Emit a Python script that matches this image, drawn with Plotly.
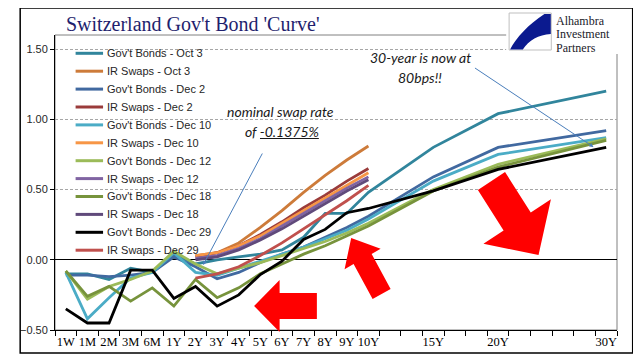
import math
import plotly.graph_objects as go

# ---------------- data ----------------
tenors = ["1W", "1M", "2M", "3M", "6M", "1Y", "2Y", "3Y", "4Y", "5Y", "6Y",
          "7Y", "8Y", "9Y", "10Y", "15Y", "20Y", "30Y"]
tenor_slot = [0, 1, 2, 3, 4, 5, 6, 7, 8, 9, 10, 11, 12, 13, 14, 17, 20, 25]
swap_tenors = ["2Y", "3Y", "4Y", "5Y", "6Y", "7Y", "8Y", "9Y", "10Y"]

gov_oct3 = [-0.10, -0.10, -0.14, -0.06, -0.09, 0.04, -0.03, 0.00, 0.02, 0.04, 0.07, 0.16, 0.33, 0.33, 0.48, 0.80, 1.04, 1.20]
gov_dec2 = [-0.11, -0.11, -0.12, -0.11, -0.09, 0.02, -0.05, -0.135, -0.09, -0.02, 0.04, 0.09, 0.16, 0.23, 0.31, 0.59, 0.80, 0.92]
gov_dec10 = [-0.09, -0.42, -0.27, -0.13, -0.09, 0.05, -0.09, -0.11, -0.06, -0.01, 0.04, 0.09, 0.15, 0.21, 0.29, 0.56, 0.75, 0.87]
gov_dec12 = [-0.08, -0.28, -0.19, -0.14, -0.08, 0.06, -0.03, -0.10, -0.06, -0.02, 0.03, 0.08, 0.13, 0.19, 0.26, 0.50, 0.68, 0.86]
gov_dec18 = [-0.08, -0.26, -0.19, -0.295, -0.20, -0.33, -0.14, -0.27, -0.20, -0.10, -0.03, 0.04, 0.10, 0.17, 0.24, 0.49, 0.66, 0.85]
gov_dec29 = [-0.35, -0.45, -0.45, -0.074, -0.074, -0.275, -0.19, -0.33, -0.25, -0.105, -0.01, 0.145, 0.216, 0.335, 0.365, 0.49, 0.643, 0.80]

swap_oct3 = [0.03, 0.05, 0.12, 0.23, 0.35, 0.48, 0.60, 0.71, 0.81]
swap_dec2 = [0.02, 0.05, 0.10, 0.18, 0.27, 0.37, 0.46, 0.56, 0.65]
swap_dec10 = [0.03, 0.05, 0.10, 0.17, 0.26, 0.35, 0.44, 0.53, 0.62]
swap_dec12 = [0.01, 0.03, 0.08, 0.15, 0.24, 0.33, 0.42, 0.51, 0.59]
swap_dec18 = [0.00, 0.02, 0.07, 0.14, 0.22, 0.31, 0.40, 0.49, 0.57]
swap_dec29 = [-0.13, -0.10, -0.05, 0.03, 0.12, 0.22, 0.32, 0.42, 0.53]

series_names = ["Gov't Bonds - Oct 3", "IR Swaps - Oct 3", "Gov't Bonds - Dec 2", "IR Swaps - Dec 2",
                "Gov't Bonds - Dec 10", "IR Swaps - Dec 10", "Gov't Bonds - Dec 12", "IR Swaps - Dec 12",
                "Gov't Bonds - Dec 18", "IR Swaps - Dec 18", "Gov't Bonds - Dec 29", "IR Swaps - Dec 29"]
series_values = [gov_oct3, swap_oct3, gov_dec2, swap_dec2, gov_dec10, swap_dec10,
                 gov_dec12, swap_dec12, gov_dec18, swap_dec18, gov_dec29, swap_dec29]
series_colors = ["#31859C", "#CD7B3A", "#4169A0", "#9A3B3A", "#4BACC6", "#F79646",
                 "#9BBB59", "#8064A2", "#77933C", "#604A7B", "#000000", "#C0504D"]

y_ticks = [-0.5, 0.0, 0.5, 1.0, 1.5]

# ---------------- geometry helpers (window pixel -> paper) ----------------
OFF = 8                      # page body margin
W, H = 641 - OFF, 361 - OFF  # figure size
L, R, T, B = 44, 617, 35, 330  # plot area in window pixels


def px(x):
    return (x - L) / (R - L)


def py(y):
    return (B - y) / (B - T)


slot_of = dict(zip(tenors, tenor_slot))

fig = go.Figure()
for name, vals, col in zip(series_names, series_values, series_colors):
    labels = tenors if len(vals) == len(tenors) else swap_tenors
    fig.add_trace(go.Scatter(
        x=[slot_of[t] for t in labels], y=vals, mode="lines", name=name,
        line=dict(color=col, width=2.8), showlegend=False, hoverinfo="skip"))

shapes = []
annotations = []

# plot-area frame (gray) and outer chart border (black)
shapes.append(dict(type="rect", xref="paper", yref="paper", x0=0, x1=1, y0=0, y1=1,
                   line=dict(color="#808080", width=1), layer="below"))
shapes.append(dict(type="rect", xref="paper", yref="paper", x0=px(8.5), x1=px(633), y0=py(353), y1=py(8),
                   line=dict(color="#000000", width=1.5), layer="above"))


def block_arrow(tail, tip, bw, hw, hl):
    tx, ty = tail
    hx, hy = tip
    ln = math.hypot(hx - tx, hy - ty)
    dx, dy = (hx - tx) / ln, (hy - ty) / ln
    nx, ny = -dy, dx
    bx, by = hx - dx * hl, hy - dy * hl
    pts = [(tx + nx * bw, ty + ny * bw), (bx + nx * bw, by + ny * bw), (bx + nx * hw, by + ny * hw),
           (hx, hy), (bx - nx * hw, by - ny * hw), (bx - nx * bw, by - ny * bw), (tx - nx * bw, ty - ny * bw)]
    path = "M " + " L ".join(f"{px(a):.5f},{py(b):.5f}" for a, b in pts) + " Z"
    return dict(type="path", xref="paper", yref="paper", path=path, fillcolor="#FF0000",
                line=dict(width=0), layer="above")


shapes.append(block_arrow((311, 306), (247, 306), 13, 26, 26))
shapes.append(block_arrow((377, 294), (346, 238), 10.5, 21, 24))
shapes.append(block_arrow((489, 181), (537, 255), 16.5, 41, 40))

# logo area
shapes.append(dict(type="rect", xref="paper", yref="paper", x0=px(504), x1=px(630), y0=py(54), y1=py(10),
                   fillcolor="white", line=dict(width=0), layer="above"))
shapes.append(dict(type="rect", xref="paper", yref="paper", x0=px(507), x1=px(550), y0=py(50), y1=py(13),
                   fillcolor="white", line=dict(color="#BFBFBF", width=1), layer="above"))
lp = [(549.5, 14), (543, 14), (527, 24), (514, 38), (508, 49.5), (521, 49.5), (527, 40), (537, 35), (549.5, 34)]
path = "M " + f"{px(lp[0][0]):.5f},{py(lp[0][1]):.5f}" + " L " + f"{px(lp[1][0]):.5f},{py(lp[1][1]):.5f}"
path += " C " + " ".join(f"{px(a):.5f},{py(b):.5f}" for a, b in lp[2:5])
path += " L " + f"{px(lp[5][0]):.5f},{py(lp[5][1]):.5f}"
path += " C " + " ".join(f"{px(a):.5f},{py(b):.5f}" for a, b in lp[6:9]) + " Z"
shapes.append(dict(type="path", xref="paper", yref="paper", path=path, fillcolor="#0B1A8F",
                   line=dict(width=0), layer="above"))
for txt, yy in [("Alhambra", 21.5), ("Investment", 34.5), ("Partners", 47.5)]:
    annotations.append(dict(text=txt, xref="paper", yref="paper", x=px(553), y=py(yy), xanchor="left",
                            yanchor="middle", showarrow=False,
                            font=dict(family="Liberation Serif", size=12, color="#1a1a2a")))

# title
annotations.append(dict(text="Switzerland Gov't Bond 'Curve'", xref="paper", yref="paper", x=px(185), y=py(24),
                        xanchor="center", yanchor="middle", showarrow=False,
                        font=dict(family="Liberation Serif", size=20, color="#1F1F6E")))

# manual legend
for k, (name, col) in enumerate(zip(series_names, series_colors)):
    yy = 53.3 + 17.9 * k
    shapes.append(dict(type="line", xref="paper", yref="paper", x0=px(65), x1=px(93), y0=py(yy), y1=py(yy),
                       line=dict(color=col, width=3), layer="above"))
    annotations.append(dict(text=name, xref="paper", yref="paper", x=px(94.5), y=py(yy), xanchor="left",
                            yanchor="middle", showarrow=False,
                            font=dict(family="Liberation Sans", size=11, color="#262626")))

# callout texts
itfont = dict(family="Lato", size=14, color="#1a1a1a")
annotations.append(dict(text="<i>nominal swap rate</i>", xref="paper", yref="paper", x=px(274), y=py(111),
                        xanchor="center", yanchor="middle", showarrow=False, font=itfont))
annotations.append(dict(text="<i>of -0.1375%</i>", xref="paper", yref="paper", x=px(275), y=py(131),
                        xanchor="center", yanchor="middle", showarrow=False, font=itfont))
shapes.append(dict(type="line", xref="paper", yref="paper", x0=px(253), x1=px(313), y0=py(138.5), y1=py(138.5),
                   line=dict(color="#1a1a1a", width=1), layer="above"))
annotations.append(dict(text="<i>30-year is now at</i>", xref="paper", yref="paper", x=px(417), y=py(57),
                        xanchor="center", yanchor="middle", showarrow=False, font=itfont))
annotations.append(dict(text="<i>80bps!!</i>", xref="paper", yref="paper", x=px(416), y=py(77),
                        xanchor="center", yanchor="middle", showarrow=False, font=itfont))

# thin callout arrows
annotations.append(dict(text="", xref="paper", yref="paper", x=px(195), y=py(265), ax=60, ay=-113,
                        showarrow=True, arrowhead=2, arrowsize=0.8, arrowwidth=1, arrowcolor="#4A7EBB", standoff=0))
annotations.append(dict(text="", xref="paper", yref="paper", x=px(593), y=py(147), ax=-120, ay=-80,
                        showarrow=True, arrowhead=2, arrowsize=0.8, arrowwidth=1, arrowcolor="#4A7EBB", standoff=0))

fig.update_layout(
    width=W, height=H, autosize=False,
    margin=dict(l=L - OFF, r=W - (R - OFF), t=T - OFF, b=H - (B - OFF), pad=0),
    paper_bgcolor="white", plot_bgcolor="white",
    showlegend=False,
    shapes=shapes, annotations=annotations,
    xaxis=dict(range=[-0.5, 25.5], tickmode="array", tickvals=tenor_slot, ticktext=tenors,
               ticks="", showgrid=False, zeroline=False, showline=True, linecolor="black", linewidth=1,
               tickfont=dict(family="Liberation Serif", size=12.5, color="black"),
               minor=dict(ticks="outside", ticklen=5, tickcolor="black", tickwidth=1, tick0=-0.5, dtick=1,
                          showgrid=False)),
    yaxis=dict(range=[-0.5, 1.6], tickmode="array", tickvals=y_ticks, tickformat=".2f",
               ticks="outside", ticklen=4, tickcolor="black", showline=True, linecolor="black", linewidth=1,
               showgrid=True, gridcolor="#A6A6A6", griddash="3px,2px", gridwidth=1,
               zeroline=True, zerolinecolor="black", zerolinewidth=1,
               tickfont=dict(family="Liberation Sans", size=11, color="#262626")),
)

fig.write_html("out.html")
